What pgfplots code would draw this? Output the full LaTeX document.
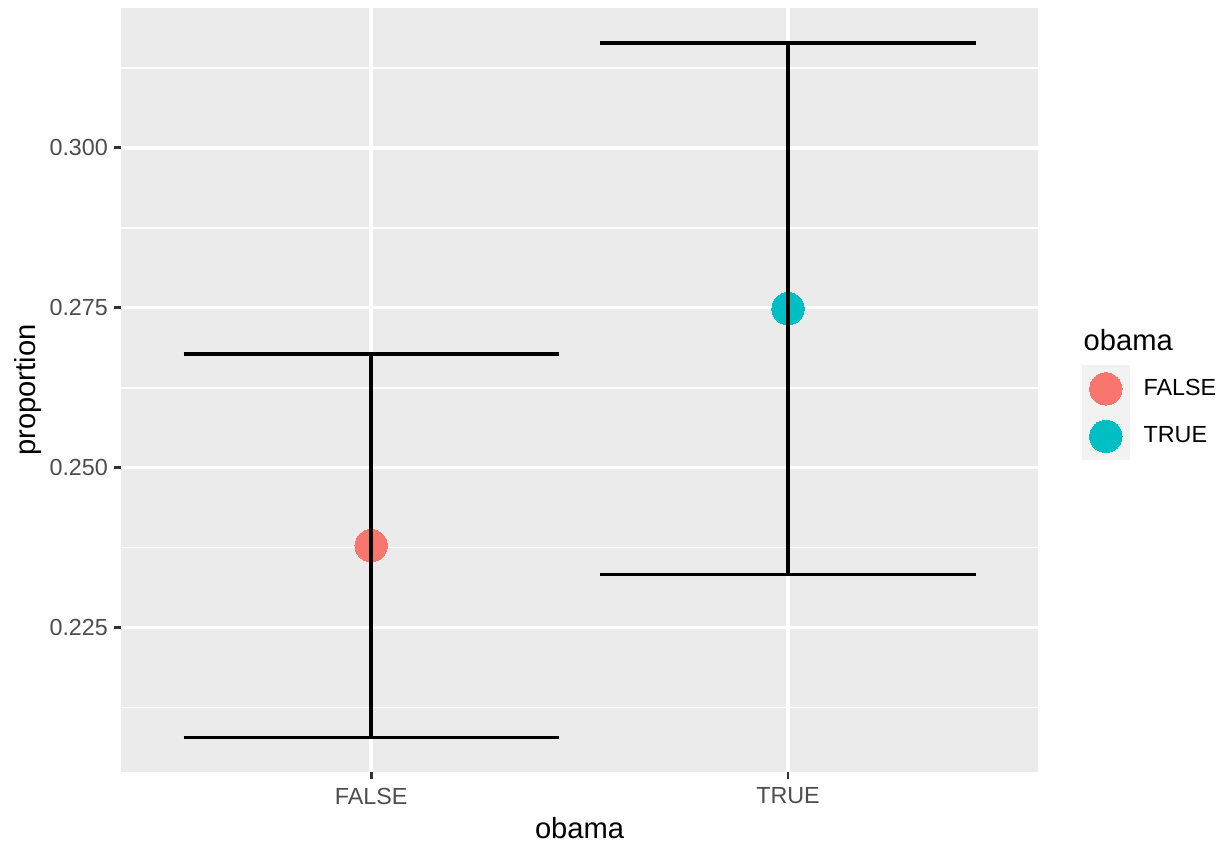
\documentclass[border=0pt]{standalone}
\usepackage{pgfplots}
\pgfplotsset{compat=1.18}
\usepackage{fontspec}
\setmainfont{Liberation Sans}
\definecolor{ggbg}{HTML}{EBEBEB}
\definecolor{ggkey}{HTML}{F2F2F2}
\definecolor{grey30}{HTML}{4D4D4D}
\definecolor{grey20}{HTML}{333333}
\definecolor{ggred}{HTML}{F8766D}
\definecolor{ggcyan}{HTML}{00BFC4}
\begin{document}
\begin{tikzpicture}
\path[use as bounding box] (0,0) rectangle (462.3pt,318.2pt);
\begin{axis}[
  at={(45.67pt,26.80pt)}, anchor=south west,
  scale only axis, width=346.1pt, height=288.3pt,
  clip mode=individual,
  xmin=0.4, xmax=2.6, ymin=0.20238, ymax=0.32183,
  xtick={1,2}, xticklabels={FALSE,TRUE},
  ytick={0.225,0.25,0.275,0.3},
  minor ytick={0.2125,0.2375,0.2625,0.2875,0.3125},
  grid=both,
  major grid style={white, line width=1.3pt},
  minor grid style={white, line width=0.65pt},
  axis background/.style={fill=ggbg},
  axis line style={draw=none},
  tick align=outside, xtick pos=left, ytick pos=left,
  major tick length=2.75pt, minor tick length=0pt,
  tick style={grey20, line width=1.1pt},
  minor tick style={draw=none},
  scaled y ticks=false,
  yticklabel style={/pgf/number format/fixed, /pgf/number format/fixed zerofill, /pgf/number format/precision=3},
  /pgf/number format/assume math mode=true,
  ticklabel style={font=\fontsize{8.8}{10}\selectfont, text=grey30},
  xticklabel style={anchor=north, inner sep=0pt, yshift=-3pt},
  yticklabel style={anchor=east, inner sep=0pt, xshift=-2pt},
  xlabel={obama}, ylabel={proportion},
  label style={font=\fontsize{11}{13}\selectfont, text=black},
  xlabel style={at={(axis description cs:0.5,-0.0733)}, anchor=center},
  ylabel style={at={(axis description cs:-0.1014,0.5)}, anchor=center},
  legend style={at={(1.048,0.5327)}, anchor=north west, draw=none, fill=none,
    inner sep=0pt, outer sep=0pt, row sep=0pt,
    nodes={inner sep=0pt, outer sep=0pt, font=\fontsize{8.8}{10}\selectfont, text=black},
    /tikz/every odd column/.append style={column sep=5.3pt}},
  legend cell align=left,
  legend image code/.code={\fill[ggkey] (0pt,-8.75pt) rectangle (17.5pt,8.75pt);
    \draw[#1] plot coordinates {(8.75pt,0pt)};},
]
\addplot[only marks, mark=*, mark size=6.1pt, color=ggred, mark options={line width=0pt}] coordinates {(1,0.2378)};
\addlegendentry{FALSE}
\addplot[only marks, mark=*, mark size=6.1pt, color=ggcyan, mark options={line width=0pt}] coordinates {(2,0.27485)};
\addlegendentry{TRUE}
\addplot[black, line width=1.42pt, forget plot, unbounded coords=jump] coordinates {
  (0.55,0.26781) (1.45,0.26781) (1,nan) (1,0.26781) (1,0.20781) (1,nan) (0.55,0.20781) (1.45,0.20781)};
\addplot[black, line width=1.42pt, forget plot, unbounded coords=jump] coordinates {
  (1.55,0.31641) (2.45,0.31641) (2,nan) (2,0.31641) (2,0.23328) (2,nan) (1.55,0.23328) (2.45,0.23328)};
\node[anchor=west, inner sep=0pt, font=\fontsize{11}{13}\selectfont] at (axis description cs:1.0491,0.5654) {obama};
\end{axis}
\end{tikzpicture}
\end{document}
